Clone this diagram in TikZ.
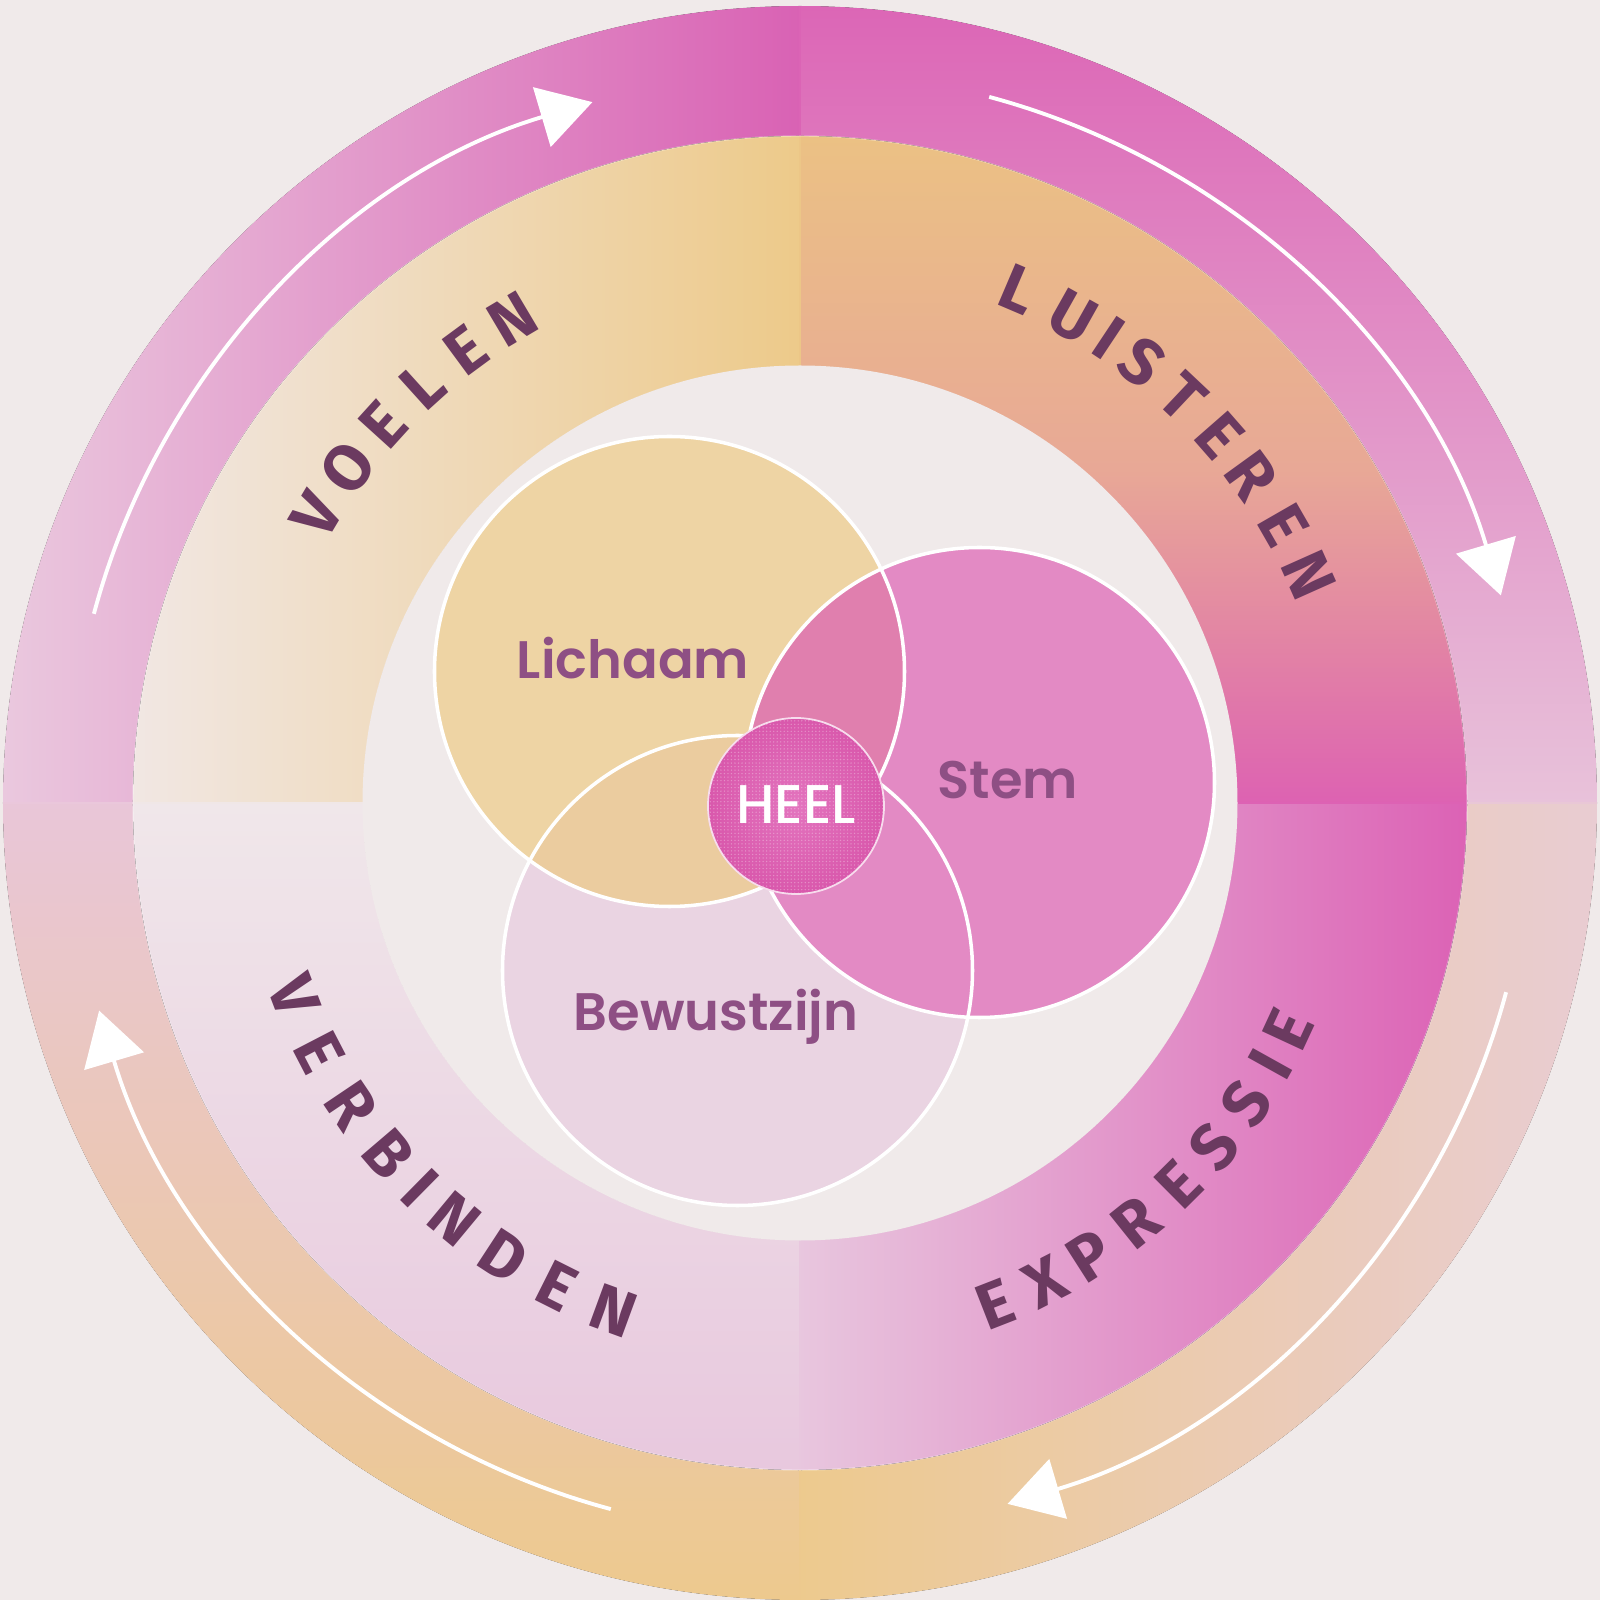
\documentclass[tikz,border=0pt]{standalone}
\usepackage{fontspec}
\setmainfont{Poppins}
\newfontfamily\labelfont{Poppins SemiBold}
\newfontfamily\heelfont{Poppins Medium}
\newfontfamily\ringfont{Fira Sans}
\usepackage{xcolor}
\usetikzlibrary{arrows.meta,positioning,patterns.meta}

\definecolor{bgcol}{HTML}{F0EAEA}
\definecolor{plum}{HTML}{6B3A60}
\definecolor{mauve}{HTML}{8E4F84}
% outer ring
\definecolor{otla}{HTML}{EAC8DE}
\definecolor{otlb}{HTML}{D962B4}
\definecolor{otra}{HTML}{DC66B6}
\definecolor{otrb}{HTML}{E8C2DA}
\definecolor{obra}{HTML}{EDCA8E}
\definecolor{obrb}{HTML}{E9CCD2}
\definecolor{obla}{HTML}{E9C6D8}
\definecolor{oblb}{HTML}{EDC98E}
% middle ring
\definecolor{mtla}{HTML}{F1E7E3}
\definecolor{mtlb}{HTML}{EDCA8A}
\definecolor{mtra}{HTML}{EBC184}
\definecolor{mtrm}{HTML}{E8A896}
\definecolor{mtrb}{HTML}{DD62B2}
\definecolor{mbra}{HTML}{E8C6DE}
\definecolor{mbrb}{HTML}{DC62B5}
\definecolor{mbla}{HTML}{F0E7EA}
\definecolor{mblb}{HTML}{E8C8DE}
% venn
\definecolor{lichcol}{HTML}{EED4A4}
\definecolor{stemcol}{HTML}{E38AC4}
\definecolor{bewcol}{HTML}{EAD4E2}
\definecolor{lscol}{HTML}{E07FAE}
\definecolor{lbcol}{HTML}{EBCC9F}
\definecolor{heelin}{HTML}{E374BE}
\definecolor{heelout}{HTML}{D958AC}

\tikzdeclarepattern{
  name=heeldots,
  type=uncolored,
  bounding box={(-0.5pt,-0.5pt) and (0.5pt,0.5pt)},
  tile size={(1pt,1pt)},
  code={\fill (0pt,0pt) circle[radius=0.22pt];}
}

\begin{document}
\begin{tikzpicture}[x=0.01cm,y=0.01cm,
    band/.style n args={4}{insert path={(#1:#3) arc[start angle=#1, end angle=#2, radius=#3] -- (#2:#4) arc[start angle=#2, end angle=#1, radius=#4] -- cycle}}]
        \tikzstyle{ringtext} = [text=plum, font=\ringfont\bfseries\fontsize{18.5}{18.5}\selectfont, inner sep=0pt]
        \tikzstyle{venntext} = [text=mauve, font=\labelfont\fontsize{15}{15}\selectfont, inner sep=0pt, anchor=base]
        \tikzstyle{heeltext} = [text=white, font=\heelfont\fontsize{15.5}{15.5}\selectfont, inner sep=0pt, anchor=base]
        \tikzstyle{ringarrow} = [draw=white, line width=1.1pt, -{Triangle[length=15pt, width=17.5pt]}]
        \tikzstyle{vennline} = [draw=white, line width=1pt]
        \tikzstyle{seam} = [line width=0.8pt]

        \fill[bgcol] (-800,-797) rectangle (800,803);
        \useasboundingbox (-800,-797) rectangle (800,803);

        % outer ring
        \fill[band={90}{180}{797}{667}, left color=otla, right color=otlb];
        \fill[band={0}{90}{797}{667}, top color=otra, bottom color=otrb];
        \fill[band={-90}{0}{797}{667}, left color=obra, right color=obrb];
        \fill[band={180}{270}{797}{667}, top color=obla, bottom color=oblb];

        % middle ring
        \fill[band={90}{180}{667}{437}, left color=mtla, right color=mtlb];
        \fill[band={0}{90}{667}{437}, top color=mtra, bottom color=mtrb, middle color=mtrm];
        \fill[band={-90}{0}{667}{437}, left color=mbra, right color=mbrb];
        \fill[band={180}{270}{667}{437}, top color=mbla, bottom color=mblb];

        % clean edges and seams
        \draw[seam, otlb!50!otra] (0,667) -- (0,797);
        \draw[seam, mtlb!50!mtra] (0,437) -- (0,667);
        \draw[seam, oblb!50!obra] (0,-667) -- (0,-797);
        \draw[seam, mblb!50!mbra] (0,-437) -- (0,-667);
        \draw[seam, otla!50!obla] (-667,0) -- (-797,0);
        \draw[seam, mtla!50!mbla] (-437,0) -- (-667,0);
        \draw[seam, otrb!50!obrb] (667,0) -- (797,0);
        \draw[seam, mtrb!50!mbrb] (437,0) -- (667,0);
        \draw[white, draw opacity=0.3, line width=0.4pt] (0,0) circle[radius=667];
        \fill[bgcol] (0,0) circle[radius=437.5];
        \draw[bgcol, line width=1pt] (0,0) circle[radius=799];

        % arrows round the ring
        \foreach \s in {165,75,-15,-105}
          \draw[ringarrow] (\s:731) arc[start angle=\s, end angle=\s-58.5, radius=731];

        % ring words
        \foreach \l/\a [count=\i] in {V/149.2,O/143.5,E/137.8,L/132.1,E/126.4,N/120.7}
          \node[ringtext, rotate=\a-90] (voelen\i) at (\a:563) {\l};
        \foreach \l/\a [count=\i] in {L/66.9,U/60.7,I/56.4,S/52.2,T/46.7,E/41.2,R/35.9,E/29.9,N/24.1}
          \node[ringtext, rotate=\a-90] (luisteren\i) at (\a:558) {\l};
        \foreach \l/\a [count=\i] in {E/-68.7,X/-62.9,P/-57.4,R/-51.3,E/-45.2,S/-39.7,S/-34.0,I/-29.1,E/-24.9}
          \node[ringtext, rotate=\a+90] (expressie\i) at (\a:538) {\l};
        \foreach \l/\a [count=\i] in {V/-159.1,E/-152.57,R/-146.04,B/-139.51,I/-134.61,N/-129.71,D/-123.18,E/-116.65,N/-110.12}
          \node[ringtext, rotate=\a+90] (verbinden\i) at (\a:541) {\l};

        % venn circles
        \coordinate (lich) at (-130.5,131.5);
        \coordinate (stem) at (179.5,20.5);
        \coordinate (bew) at (-62.5,-167.5);
        \coordinate (heelc) at (-4,-3);

        \fill[lichcol] (lich) circle[radius=235];
        \fill[bewcol] (bew) circle[radius=235];
        \fill[stemcol] (stem) circle[radius=235];
        \begin{scope}
          \clip (lich) circle[radius=235];
          \fill[lbcol] (bew) circle[radius=235];
          \fill[lscol] (stem) circle[radius=235];
        \end{scope}
        \draw[vennline] (lich) circle[radius=235];
        \draw[vennline] (stem) circle[radius=235];
        \draw[vennline] (bew) circle[radius=235];

        \node[venntext] (lichaam) at (-167,124) {Lichaam};
        \node[venntext] (stemlabel) at (208,4) {Stem};
        \node[venntext] (bewustzijn) at (-84,-228) {Bewustzijn};

        % centre
        \fill[inner color=heelin, outer color=heelout] (heelc) circle[radius=88];
        \fill[pattern={heeldots}, pattern color=white, fill opacity=0.3] (heelc) circle[radius=88];
        \draw[draw=white!70!stemcol, line width=0.5pt] (heelc) circle[radius=88];
        \node[heeltext] (heel) at (-4,-21) {HEEL};
\end{tikzpicture}
\end{document}
